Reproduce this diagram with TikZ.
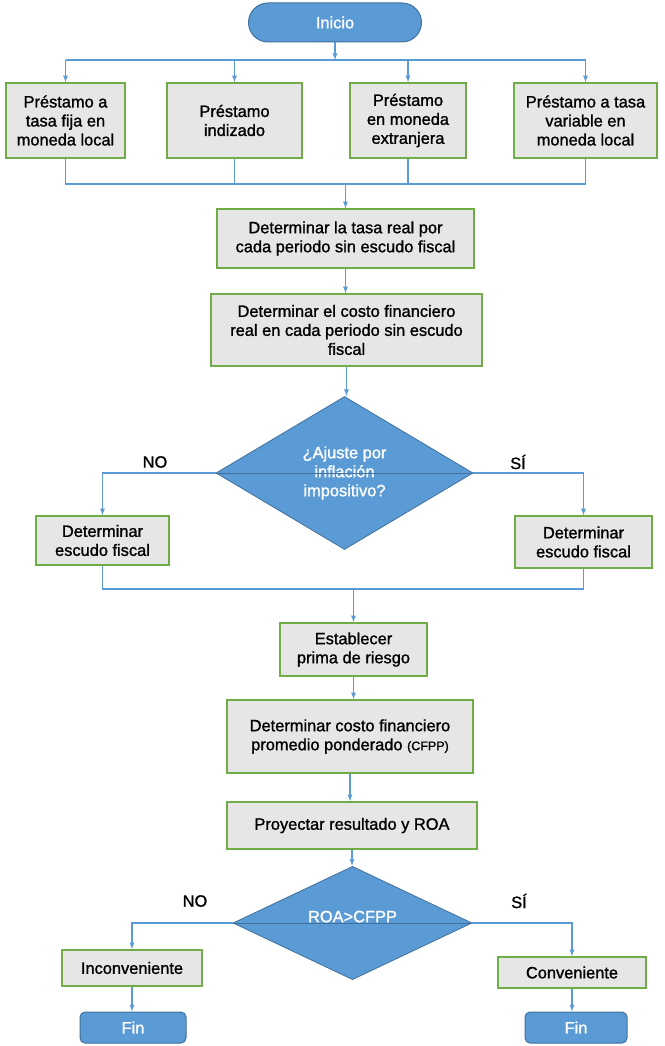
\documentclass[tikz,border=0pt]{standalone}
\usepackage{fontspec}
\setmainfont{Liberation Sans}[FakeBold=1.2]
\usepackage{xcolor}
\usetikzlibrary{shapes,
	arrows,
	positioning}
\definecolor{azul}{RGB}{91,155,213}
\definecolor{azuloscuro}{RGB}{65,113,156}
\definecolor{verde}{RGB}{112,173,71}
\definecolor{gris}{RGB}{231,230,230}
\newcommand{\fuentecaja}{\fontsize{16.4}{19}\selectfont}

\begin{document}
\begin{tikzpicture}[x=1pt, y=-1pt,
    caja/.style={rectangle, fill=gris, draw=verde, line width=1.5pt, align=center, inner sep=2pt, font=\fuentecaja},
    terminal/.style={rectangle, fill=azul, draw=azuloscuro, line width=1pt, align=center, inner sep=2pt, text=white, font=\fuentecaja},
    decision/.style={diamond, fill=azul, draw=azuloscuro, line width=0.8pt, align=center, inner sep=0pt, text=white, font=\fuentecaja},
    etiqueta/.style={font=\fuentecaja, inner sep=1pt},
    linea/.style={draw=azul, line width=1.3pt},
    flecha/.style={linea, -latex},
    cruce/.style={draw=azuloscuro, line width=1pt}]
    \useasboundingbox (0,0) rectangle (664,1046);
    % inicio y tipos de prestamo
    \node (inicio) [terminal, rounded corners=19.5pt, minimum width=173pt, minimum height=39pt] at (335,22.5) {Inicio};
    \node (b1) [caja, minimum width=119pt, minimum height=75pt] at (65.5,120.5) {Préstamo a\\tasa fija en\\moneda local};
    \node (b2) [caja, minimum width=135pt, minimum height=75pt] at (234.5,120.5) {Préstamo\\indizado};
    \node (b3) [caja, minimum width=116pt, minimum height=75pt] at (408,120.5) {Préstamo\\en moneda\\extranjera};
    \node (b4) [caja, minimum width=143pt, minimum height=75pt] at (585.5,120.5) {Préstamo a tasa\\variable en\\moneda local};
    \coordinate (bus1) at (0,60);
    \coordinate (bus2) at (0,184);
    \draw[flecha] (inicio.south) -- (inicio.south|-bus1);
    \draw[linea] (b1.north|-bus1) -- (b4.north|-bus1);
    \foreach \b in {b1,b2,b3,b4}
        \draw[flecha] (\b.north|-bus1) -- (\b.north);
    \draw[linea] (b1.south) -- (b1.south|-bus2) -- (b4.south|-bus2) -- (b4.south);
    \draw[linea] (b2.south) -- (b2.south|-bus2);
    \draw[linea] (b3.south) -- (b3.south|-bus2);

    % tasa real y costo financiero
    \node (tasa) [caja, minimum width=257pt, minimum height=59pt] at (345.5,238.5) {Determinar la tasa real por\\cada periodo sin escudo fiscal};
    \node (costo) [caja, minimum width=271pt, minimum height=72pt] at (346.5,330) {Determinar el costo financiero\\real en cada periodo sin escudo\\fiscal};
    \draw[flecha] (tasa.north|-bus2) -- (tasa.north);
    \draw[flecha] (tasa.south) -- (tasa.south|-costo.north);

    % ajuste por inflacion
    \node (dec1) [decision, minimum width=257pt, minimum height=153pt] at (344.5,473) {¿Ajuste por\\inflación\\impositivo?};
    \draw[flecha] (costo.south) -- (costo.south|-dec1.north);
    \node (escno) [caja, minimum width=133pt, minimum height=49pt] at (102.5,540.5) {Determinar\\escudo fiscal};
    \node (escsi) [caja, minimum width=137pt, minimum height=52pt] at (583.5,542) {Determinar\\escudo fiscal};
    \draw[flecha] (dec1.west) -| (escno.north);
    \draw[flecha] (dec1.east) -| (escsi.north);
    \draw[cruce] (dec1.west) -- (dec1.east);
    \node (no1) [etiqueta] at (155,462) {NO};
    \node (si1) [etiqueta] at (518,462) {SÍ};
    \coordinate (bus3) at (0,589);
    \draw[linea] (escno.south) -- (escno.south|-bus3) -- (escsi.south|-bus3) -- (escsi.south);

    % prima, cfpp y proyeccion
    \node (prima) [caja, minimum width=147pt, minimum height=53pt] at (353.5,649.5) {Establecer\\prima de riesgo};
    \node (cfpp) [caja, minimum width=246pt, minimum height=73pt] at (350,736.5) {Determinar costo financiero\\promedio ponderado {\fontsize{12.5}{19}\selectfont(CFPP)}};
    \node (proy) [caja, minimum width=250pt, minimum height=47pt] at (352,825.5) {Proyectar resultado y ROA};
    \draw[flecha] (prima.north|-bus3) -- (prima.north);
    \draw[flecha] (prima.south) -- (prima.south|-cfpp.north);
    \draw[flecha] (cfpp.south) -- (cfpp.south|-proy.north);

    % decision final
    \node (dec2) [decision, minimum width=239pt, minimum height=109pt] at (352.5,923) {ROA>CFPP\\[-6pt]};
    \draw[flecha] (proy.south) -- (proy.south|-dec2.north);
    \node (inconv) [caja, minimum width=140pt, minimum height=36pt] at (132,968) {Inconveniente};
    \node (conv) [caja, minimum width=148pt, minimum height=31pt] at (572,972.5) {Conveniente};
    \draw[flecha] (dec2.west) -| (inconv.north);
    \draw[flecha] (dec2.east) -| (conv.north);
    \draw[cruce] (dec2.west) -- (dec2.east);
    \node (no2) [etiqueta] at (195,901) {NO};
    \node (si2) [etiqueta] at (519,901) {SÍ};
    \node (fin1) [terminal, rounded corners=5pt, minimum width=106pt, minimum height=31pt] at (133,1027.5) {Fin};
    \node (fin2) [terminal, rounded corners=5pt, minimum width=102pt, minimum height=31pt] at (576,1027.5) {Fin};
    \draw[flecha] (inconv.south) -- (inconv.south|-fin1.north);
    \draw[flecha] (conv.south) -- (conv.south|-fin2.north);
\end{tikzpicture}
\end{document}
